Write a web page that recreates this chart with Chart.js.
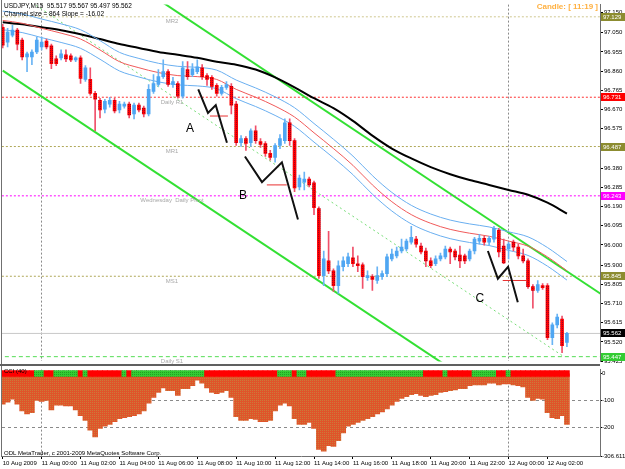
<!DOCTYPE html>
<html><head><meta charset="utf-8">
<script src="https://cdn.jsdelivr.net/npm/chart.js@4.4.1/dist/chart.umd.min.js"></script>
<style>
html,body{margin:0;padding:0;background:#fff;}
#wrap{position:relative;width:625px;height:469px;overflow:hidden;background:#fff}
canvas{position:absolute;left:0}
#c1{top:0}
#c2{top:366px}
</style></head><body>
<div id="wrap"><canvas id="c1" width="625" height="366"></canvas><canvas id="c2" width="625" height="103"></canvas></div>
<script>
// ---------- DATA (USDJPY M15, bar index 0 = 10 Aug 22:00) ----------
const openP = [97.077,97.004,97.038,97.063,97.014,96.931,96.931,96.955,96.980,97.009,
96.985,96.921,96.926,96.941,96.936,96.916,96.926,96.819,96.819,96.750,
96.716,96.672,96.697,96.716,96.668,96.687,96.697,96.648,96.692,96.677,
96.648,96.760,96.794,96.833,96.858,96.794,96.799,96.736,96.868,96.843,
96.858,96.877,96.838,96.829,96.790,96.750,96.780,96.785,96.697,96.506,
96.526,96.506,96.565,96.511,96.502,96.453,96.433,96.492,96.516,96.604,
96.516,96.287,96.311,96.326,96.307,96.180,95.848,95.921,95.872,95.799,
95.892,95.907,95.936,95.907,95.902,95.838,95.843,95.824,95.843,95.858,
95.931,95.946,95.970,95.980,96.014,96.029,95.994,95.970,95.921,95.907,
95.931,95.941,95.980,95.970,95.950,95.946,95.931,95.970,96.019,96.033,
96.014,96.029,96.072,95.994,95.980,96.014,95.989,95.946,95.921,95.794,
95.775,95.799,95.799,95.541,95.604,95.633,95.517];
const highP = [97.092,97.072,97.087,97.072,97.024,96.955,96.965,97.029,97.029,97.019,
96.994,96.936,96.965,96.965,96.946,96.931,96.936,96.887,96.877,96.760,
96.726,96.721,96.731,96.726,96.711,96.707,96.707,96.702,96.702,96.687,
96.794,96.843,96.868,96.916,96.868,96.829,96.809,96.907,96.907,96.897,
96.916,96.892,96.848,96.838,96.799,96.790,96.809,96.799,96.711,96.541,
96.536,96.575,96.590,96.526,96.511,96.468,96.502,96.546,96.624,96.624,
96.526,96.346,96.360,96.336,96.316,96.189,95.970,96.067,95.882,95.921,
95.941,95.960,95.989,95.946,95.911,95.872,95.853,95.892,95.872,95.955,
95.980,95.989,96.029,96.029,96.092,96.043,96.009,95.985,95.936,95.946,
95.960,95.994,95.989,95.980,95.994,95.955,95.980,96.038,96.053,96.043,
96.043,96.092,96.082,96.029,96.014,96.024,96.004,95.980,95.931,95.804,
95.824,95.809,95.809,95.614,95.658,95.648,95.567];
const lowP = [96.975,96.980,97.029,96.965,96.916,96.858,96.892,96.946,96.965,96.970,
96.872,96.887,96.916,96.907,96.907,96.907,96.799,96.809,96.741,96.565,
96.629,96.653,96.682,96.653,96.653,96.677,96.629,96.624,96.658,96.633,
96.638,96.750,96.785,96.824,96.785,96.780,96.726,96.726,96.819,96.833,
96.848,96.819,96.790,96.770,96.736,96.741,96.770,96.648,96.492,96.487,
96.468,96.487,96.502,96.482,96.438,96.419,96.409,96.477,96.502,96.492,
96.263,96.272,96.272,96.287,96.150,95.834,95.799,95.858,95.770,95.760,
95.872,95.892,95.892,95.868,95.785,95.824,95.775,95.809,95.829,95.843,
95.921,95.936,95.960,95.970,96.004,95.989,95.955,95.892,95.887,95.897,
95.921,95.931,95.907,95.926,95.887,95.907,95.921,95.955,96.004,95.999,
95.999,96.014,95.941,95.907,95.931,95.970,95.931,95.911,95.785,95.687,
95.765,95.780,95.531,95.507,95.589,95.467,95.497];
const closeP = [96.989,97.053,97.063,96.994,96.931,96.946,96.955,97.014,97.004,96.980,
96.897,96.897,96.946,96.921,96.916,96.926,96.824,96.877,96.750,96.721,
96.668,96.711,96.716,96.663,96.697,96.697,96.643,96.692,96.668,96.648,
96.770,96.799,96.833,96.858,96.794,96.809,96.736,96.877,96.833,96.872,
96.882,96.833,96.819,96.785,96.750,96.780,96.794,96.692,96.506,96.526,
96.502,96.565,96.516,96.497,96.453,96.433,96.492,96.526,96.604,96.516,
96.282,96.331,96.326,96.297,96.185,95.848,95.931,95.872,95.799,95.897,
95.921,95.941,95.907,95.897,95.843,95.848,95.829,95.848,95.858,95.941,
95.955,95.970,95.989,96.019,96.038,96.004,95.965,95.921,95.897,95.931,
95.946,95.980,95.965,95.941,95.921,95.921,95.970,96.029,96.033,96.014,
96.033,96.082,95.965,95.911,96.004,95.989,95.946,95.921,95.794,95.775,
95.804,95.789,95.541,95.604,95.643,95.502,95.562];
const cciVals = [-114,-107,-96,-114,-139,-150,-146,-100,-104,-100,
-136,-118,-118,-121,-121,-136,-157,-175,-211,-236,
-204,-196,-189,-179,-168,-164,-161,-157,-150,-139,
-111,-89,-71,-54,-64,-64,-82,-57,-57,-46,
-25,-36,-54,-71,-75,-71,-64,-89,-161,-175,
-175,-168,-171,-179,-179,-175,-139,-118,-111,-121,
-168,-189,-189,-182,-204,-282,-289,-268,-271,-250,
-221,-196,-189,-182,-175,-168,-161,-150,-143,-132,
-118,-104,-93,-86,-79,-75,-82,-86,-82,-79,
-71,-68,-64,-61,-57,-57,-46,-43,-43,-43,
-36,-36,-43,-39,-39,-43,-46,-50,-89,-100,
-93,-96,-146,-164,-168,-157,-189];
const cciBandUp = [0,0,0,0,0,0,0,1,1,0, 0,1,1,1,1,1,0,1,0,0, 0,0,0,0,0,1,0,1,1,1,
1,1,1,1,1,1,1,1,1,1, 1,1,0,0,0,0,0,0,0,0, 0,0,0,0,0,0,0,1,1,1, 0,1,1,0,0,0,0,0,0,1,
1,1,1,1,1,1,1,1,1,1, 1,1,1,1,1,1,1,0,0,0, 0,1,0,0,0,0,0,1,1,1, 1,1,0,0,1,0,0,0,0,0, 0,0,0,0,0,0,0];
// moving averages read at every 4th bar
const maX = [0,4,8,12,16,20,24,28,32,36,40,44,48,52,56,60,64,68,72,76,80,84,88,92,96,100,104,108,112,116];
const maBlack = [97.102,97.092,97.077,97.063,97.043,97.019,96.994,96.975,96.955,96.941,96.926,96.907,96.892,96.868,96.829,96.780,96.726,96.677,96.614,96.541,96.477,96.428,96.385,96.350,96.321,96.297,96.272,96.248,96.209,96.155];
const maRed = [97.111,97.097,97.072,97.048,97.019,96.965,96.907,96.877,96.853,96.838,96.833,96.819,96.770,96.731,96.687,96.633,96.555,96.477,96.394,96.297,96.214,96.150,96.107,96.077,96.058,96.043,96.019,95.994,95.941,95.872];
const maUp = [97.157,97.143,97.118,97.094,97.065,97.011,96.953,96.923,96.899,96.884,96.879,96.865,96.816,96.777,96.733,96.679,96.601,96.523,96.440,96.343,96.260,96.196,96.153,96.123,96.104,96.089,96.065,96.040,95.987,95.918];
const maDn = [97.065,97.051,97.026,97.002,96.973,96.919,96.861,96.831,96.807,96.792,96.787,96.773,96.724,96.685,96.641,96.587,96.509,96.431,96.348,96.251,96.168,96.104,96.061,96.031,96.012,95.997,95.973,95.948,95.895,95.826];
// regression channel
const chX = [0, 123];
const chLow = [96.863, 94.893];
const chUp = [97.727, 95.757];
const chMidX = [0, 115];
const chMid = [97.295, 95.453];
// pivot levels
const levelVals = [97.129, 96.731, 96.487, 96.243, 95.845, 95.562, 95.447];
const levelNames = ['MR2', 'Daily R1', 'MR1', 'Wednesday  Daily Pivot', 'MS1', '', 'Daily S1'];
// hand-drawn zigzags
const zzAx = [40.2, 42.2, 43.8, 46.1], zzAy = [96.770, 96.653, 96.692, 96.506];
const zzBx = [49.8, 53.3, 57.4, 60.7], zzBy = [96.438, 96.311, 96.409, 96.126];
const zzCx = [99.75, 101.8, 103.9, 105.9], zzCy = [95.970, 95.833, 95.892, 95.716];
const redMarkX = [[42.6, 46.3], [54.3, 58.4], [102.8, 107.8]];
const redMarkY = [96.638, 96.297, 95.824];
const letterText = ['A', 'B', 'C'];
const letterX = [38.5, 49.4, 98.1];
const letterY = [96.575, 96.243, 95.736];
// axes
const priceTicks = [97.150,97.050,96.955,96.860,96.765,96.670,96.575,96.480,96.380,96.285,96.190,96.095,96.000,95.900,95.805,95.710,95.615,95.520,95.425];
const cciTicks = [0, -100, -200, -306.611];
const timeTickPos = [0,8,16,24,32,40,48,56,64,72,80,88,96,104,112];
const timeLabels = ['10 Aug 2009','11 Aug 00:00','11 Aug 02:00','11 Aug 04:00','11 Aug 06:00','11 Aug 08:00','11 Aug 10:00','11 Aug 12:00','11 Aug 14:00','11 Aug 16:00','11 Aug 18:00','11 Aug 20:00','11 Aug 22:00','12 Aug 00:00','12 Aug 02:00'];
const daySepPos = [8, 104];

// ---------- STYLE ----------
const FONT = "'Liberation Sans', Arial, sans-serif";
Chart.defaults.font.family = FONT;
Chart.defaults.font.size = 6;
Chart.defaults.color = '#000';
const X_MIN = -0.15, X_MAX = 122.8;

function makePattern(ctx, base, dot, checker) {
  const cv = document.createElement('canvas'); cv.width = 2; cv.height = 2;
  const g = cv.getContext('2d');
  g.fillStyle = base; g.fillRect(0, 0, 2, 2);
  g.fillStyle = dot; g.fillRect(0, 0, 1, 1);
  if (checker) g.fillRect(1, 1, 1, 1);
  return ctx.createPattern(cv, 'repeat');
}
const ctx1 = document.getElementById('c1').getContext('2d');
const ctx2 = document.getElementById('c2').getContext('2d');
const redPat = makePattern(ctx1, '#FF0000', '#A00020', false);
const cciPat = makePattern(ctx2, '#E0542A', '#CC7A3A', false);
const greenPat = makePattern(ctx2, '#33CC33', '#22A022', false);

const idx = openP.map((_, i) => i);
const isBull = idx.map(i => closeP[i] >= openP[i]);
const pts = (xs, ys) => xs.map((x, i) => ({x: x, y: ys[i]}));

const levelColors = ['#D0C890', '#FF3030', '#B0A858', '#FF00FF', '#B0A858', '#C8C8C8', '#55DD55'];
const levelDash = [[2,2],[2,2],[2,2],[2,2],[2,2],[],[4,3]];
const boxColors = ['#8C8C30', '#FF0000', '#8C8C30', '#FF00FF', '#8C8C30', '#000000', '#33CC33'];

const ds1 = [];
levelVals.forEach((v, i) => ds1.push({type:'line', data:[{x:-1,y:v},{x:130,y:v}], borderColor:levelColors[i], borderWidth:1, borderDash:levelDash[i], pointRadius:0, clip:0, order:30}));
ds1.push({type:'line', data:pts(chX, chLow), borderColor:'#33E033', borderWidth:2, pointRadius:0, clip:0, order:25});
ds1.push({type:'line', data:pts(chX, chUp), borderColor:'#33E033', borderWidth:2, pointRadius:0, clip:0, order:25});
ds1.push({type:'line', data:pts(chMidX, chMid), borderColor:'#77DD77', borderWidth:1, borderDash:[2,3], pointRadius:0, clip:0, order:25});
const maStyle = {type:'line', pointRadius:0, clip:0, cubicInterpolationMode:'monotone', order:20};
ds1.push(Object.assign({}, maStyle, {data:pts(maX, maUp), borderColor:'#6AAFF0', borderWidth:1}));
ds1.push(Object.assign({}, maStyle, {data:pts(maX, maDn), borderColor:'#6AAFF0', borderWidth:1}));
ds1.push(Object.assign({}, maStyle, {data:pts(maX, maRed), borderColor:'#F05A5A', borderWidth:1}));
ds1.push(Object.assign({}, maStyle, {data:pts(maX, maBlack), borderColor:'#000000', borderWidth:2}));
ds1.push({type:'bar', data:idx.map(i => ({x:i, y:[lowP[i], highP[i]]})), backgroundColor:idx.map(i => isBull[i] ? '#6AB4F4' : '#F0506A'), barThickness:1, grouped:false, order:12});
ds1.push({type:'bar', data:idx.map(i => ({x:i, y:[Math.min(openP[i], closeP[i]), Math.max(openP[i], closeP[i])]})), backgroundColor:idx.map(i => isBull[i] ? '#4FA6F2' : redPat), barThickness:3, minBarLength:1, grouped:false, order:11});
[[zzAx, zzAy], [zzBx, zzBy], [zzCx, zzCy]].forEach(z => ds1.push({type:'line', data:pts(z[0], z[1]), borderColor:'#111', borderWidth:2, pointRadius:0, clip:0, order:2}));
redMarkX.forEach((xs, i) => ds1.push({type:'line', data:[{x:xs[0], y:redMarkY[i]}, {x:xs[1], y:redMarkY[i]}], borderColor:'#E83030', borderWidth:1, pointRadius:0, clip:0, order:3}));

const overlay1 = {
  id: 'overlay1',
  afterDraw(chart) {
    const {ctx, scales: {x, y}} = chart;
    ctx.save();
    ctx.strokeStyle = '#707070'; ctx.lineWidth = 1;
    ctx.beginPath(); ctx.moveTo(1.5, 0); ctx.lineTo(1.5, 366); ctx.stroke();
    ctx.strokeStyle = '#606060'; ctx.lineWidth = 2;
    ctx.beginPath(); ctx.moveTo(0, 365); ctx.lineTo(600, 365); ctx.stroke();
    ctx.font = '6px ' + FONT; ctx.fillStyle = '#A8A8A8'; ctx.textAlign = 'center'; ctx.textBaseline = 'top';
    levelVals.forEach((v, i) => { if (levelNames[i]) ctx.fillText(levelNames[i], x.getPixelForValue(34.8), y.getPixelForValue(v) + 2); });
    ctx.font = '12px ' + FONT; ctx.fillStyle = '#000'; ctx.textBaseline = 'middle';
    letterText.forEach((t, i) => ctx.fillText(t, x.getPixelForValue(letterX[i]), y.getPixelForValue(letterY[i])));
    ctx.font = '6px ' + FONT; ctx.textAlign = 'left';
    levelVals.forEach((v, i) => {
      const py = Math.round(y.getPixelForValue(v));
      ctx.fillStyle = boxColors[i]; ctx.fillRect(601, py - 4, 24, 8);
      ctx.fillStyle = '#fff'; ctx.fillText(v.toFixed(3), 603, py);
    });
    ctx.fillStyle = '#000'; ctx.font = '6.5px ' + FONT; ctx.textBaseline = 'middle';
    ctx.fillText('USDJPY,M15  95.517 95.567 95.497 95.562', 4, 6);
    ctx.fillText('Channel size = 864 Slope = -16.02', 4, 14);
    ctx.font = 'bold 8px ' + FONT; ctx.fillStyle = '#FFB040'; ctx.textAlign = 'right';
    ctx.fillText('Candle: [ 11:19 ]', 598, 7);
    ctx.restore();
  }
};

new Chart(ctx1, {
  type: 'line',
  data: {datasets: ds1},
  options: {
    responsive: false, animation: false, devicePixelRatio: 1, events: [],
    layout: {padding: {left: 2, top: 2, right: 0, bottom: 2}},
    plugins: {legend: {display: false}, tooltip: {enabled: false}},
    scales: {
      x: {type: 'linear', min: X_MIN, max: X_MAX, offset: false,
        afterBuildTicks: s => { s.ticks = daySepPos.map(v => ({value: v})); },
        afterFit: s => { s.height = 0; },
        ticks: {display: false},
        grid: {display: true, color: '#8A8A8A', lineWidth: 1, drawTicks: false, offset: false},
        border: {display: false, dash: [2, 2]}},
      y: {type: 'linear', position: 'right', min: 95.4236, max: 97.1894,
        afterBuildTicks: s => { s.ticks = priceTicks.map(v => ({value: v})); },
        afterFit: s => { s.width = 25; },
        ticks: {autoSkip: false, padding: 1, color: '#000', font: {size: 6}, callback: v => Number(v).toFixed(3)},
        grid: {drawOnChartArea: false, drawTicks: true, tickLength: 3, tickColor: '#000'},
        border: {display: true, color: '#707070'}}
    }
  },
  plugins: [overlay1]
});

const overlay2 = {
  id: 'overlay2',
  afterDraw(chart) {
    const {ctx} = chart;
    ctx.save();
    ctx.strokeStyle = '#707070'; ctx.lineWidth = 1;
    ctx.beginPath(); ctx.moveTo(1.5, 0); ctx.lineTo(1.5, 91); ctx.stroke();
    ctx.font = '6px ' + FONT; ctx.fillStyle = '#000'; ctx.textAlign = 'left'; ctx.textBaseline = 'middle';
    ctx.fillText('CCI (40)', 4, 5);
    ctx.fillText('ODL MetaTrader, c 2001-2009 MetaQuotes Software Corp.', 4, 87);
    ctx.restore();
  }
};
new Chart(ctx2, {
  type: 'line',
  data: {datasets: [
    {type:'bar', data: idx.map(i => ({x:i, y:[-11, 10]})), backgroundColor: idx.map(i => cciBandUp[i] ? greenPat : '#FF0000'), barThickness: 5, grouped:false, order:1},
    {type:'bar', data: idx.map(i => ({x:i, y:[0, cciVals[i]]})), backgroundColor: cciPat, barThickness: 5, grouped:false, order:2}
  ]},
  options: {
    responsive: false, animation: false, devicePixelRatio: 1, events: [],
    layout: {padding: {left: 2, top: 1, right: 0, bottom: 0}},
    plugins: {legend: {display: false}, tooltip: {enabled: false}},
    scales: {
      x: {type: 'linear', min: X_MIN, max: X_MAX, offset: false,
        afterBuildTicks: s => { s.ticks = timeTickPos.map(v => ({value: v})); },
        afterFit: s => { s.height = 13; },
        ticks: {autoSkip: false, maxRotation: 0, align: 'start', padding: 1, color: '#000', font: {size: 6}, callback: (v, i) => timeLabels[i]},
        grid: {display: true, drawOnChartArea: true, offset: false, tickLength: 3, tickColor: '#000',
          color: c => (c.tick && daySepPos.includes(c.tick.value)) ? '#8A8A8A' : 'rgba(0,0,0,0)'},
        border: {display: true, color: '#707070', dash: [2, 2]}},
      y: {type: 'linear', position: 'right', min: -306.611, max: 14,
        afterBuildTicks: s => { s.ticks = cciTicks.map(v => ({value: v})); },
        afterFit: s => { s.width = 25; },
        ticks: {autoSkip: false, padding: 0, color: '#000', font: {size: 6}, callback: v => String(v)},
        grid: {drawOnChartArea: true, drawTicks: true, tickLength: 2, tickColor: '#000',
          color: c => (c.tick && (c.tick.value === -100 || c.tick.value === -200)) ? '#8A8A8A' : 'rgba(0,0,0,0)'},
        border: {display: true, color: '#707070', dash: [3, 3]}}
    }
  },
  plugins: [overlay2]
});
</script>
</body></html>
